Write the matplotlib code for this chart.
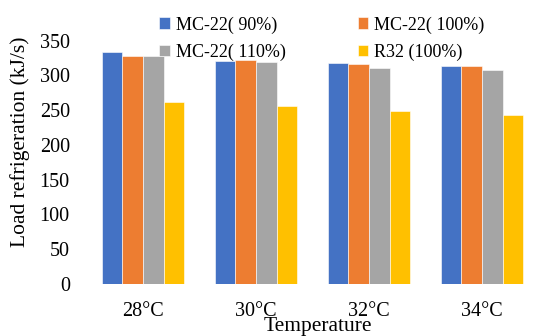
import matplotlib
matplotlib.use("Agg")
import matplotlib.pyplot as plt
import numpy as np

categories = ["28°C", "30°C", "32°C", "34°C"]
series_names = ["MC-22( 90%)", "MC-22( 100%)", "MC-22( 110%)", "R32 (100%)"]
mc22_90 = [333.5, 320, 317.5, 314]
mc22_100 = [328, 321.5, 316, 314]
mc22_110 = [328, 319, 310, 308]
r32_100 = [261, 256.5, 249, 243]
colors = ["#4472C4", "#ED7D31", "#A5A5A5", "#FFC000"]
yticks = [0, 50, 100, 150, 200, 250, 300, 350]

plt.rcParams['font.family'] = ['Liberation Serif', 'DejaVu Serif']

W, H = 557, 336
fig = plt.figure(figsize=(W / 100, H / 100), dpi=100)
left, right = 86.5, 538.5
top, bottom = 40.5, 284
ax = fig.add_axes([left / W, (H - bottom) / H, (right - left) / W, (bottom - top) / H])

data = [mc22_90, mc22_100, mc22_110, r32_100]
x = np.arange(len(categories))
bw = 0.1815
handles = []
for i, (vals, c) in enumerate(zip(data, colors)):
    b = ax.bar(x + (i - 1.5) * bw, vals, width=bw, color=c, edgecolor="white", linewidth=0.4, label=series_names[i])
    handles.append(b)

ax.set_xlim(-0.5, len(categories) - 0.5)
ax.set_ylim(0, 350)
ax.set_yticks(yticks)
ax.set_xticks(x)
ax.set_xticklabels(categories, fontsize=14.5)
ax.tick_params(axis='y', labelsize=14.5, length=0, pad=12)
ax.tick_params(axis='x', length=0, pad=13)
for s in ax.spines.values():
    s.set_visible(False)

ax.set_ylabel("Load refrigeration (kJ/s)", fontsize=15.5)
ax.yaxis.set_label_coords((20 - left) / (right - left), (bottom - 142) / (bottom - top))
ax.set_xlabel("Temperature", fontsize=15.5)
ax.xaxis.set_label_coords((318 - left) / (right - left), -(326 - bottom) / (bottom - top))
ax.xaxis.label.set_va("center")
ax.yaxis.label.set_va("center")

order = [0, 2, 1, 3]
leg = fig.legend(handles=[handles[k] for k in order], labels=[series_names[k] for k in order],
                 ncol=2, loc="upper left",
                 bbox_to_anchor=(143 / W, 1 - 0 / H), frameon=False, fontsize=13,
                 handlelength=0.6, handleheight=0.6, handletextpad=0.3,
                 columnspacing=4.0, labelspacing=0.55)

fig.savefig("out.png", dpi=100)
